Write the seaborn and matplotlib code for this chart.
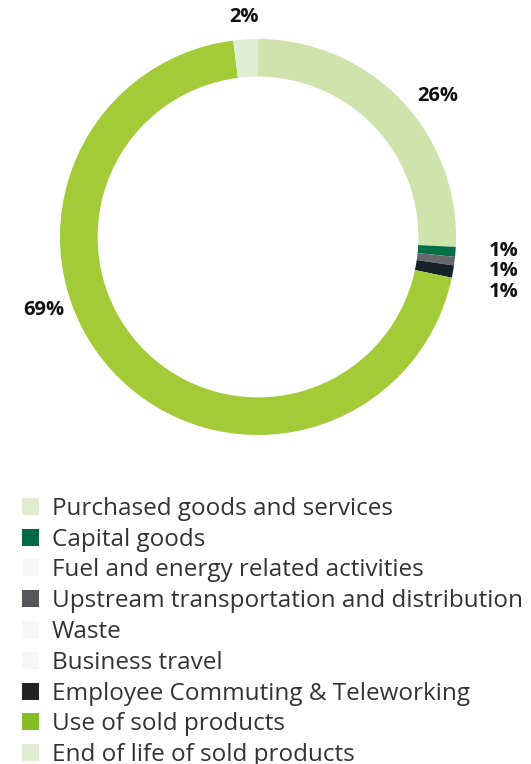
import matplotlib
matplotlib.use("Agg")
import matplotlib.pyplot as plt
import seaborn as sns

# category data
categories = [
    "Purchased goods and services",
    "Capital goods",
    "Fuel and energy related activities",
    "Upstream transportation and distribution",
    "Waste",
    "Business travel",
    "Employee Commuting & Teleworking",
    "Use of sold products",
    "End of life of sold products",
]
shares = [25.8, 0.8, 0.0, 0.7, 0.0, 0.0, 1.0, 69.7, 2.0]
share_labels = ["26%", "1%", "", "1%", "", "", "1%", "69%", "2%"]

ring_colors = ["#cfe3ad", "#007044", "#f4f4f4", "#66686c", "#f4f4f4",
               "#f4f4f4", "#14202a", "#a3cb38", "#e1eed5"]
legend_colors = ["#dfeccf", "#006a45", "#f6f6f6", "#53565a", "#f6f6f6",
                 "#f6f6f6", "#222222", "#86bc25", "#dfeccf"]

# label placement (axes data units, radius = 1)
label_pos = [(0.91, 0.71), (1.24, -0.07), None, (1.24, -0.17), None, None,
             (1.24, -0.28), (-1.08, -0.37), (-0.07, 1.11)]

sns.set_theme(style="white")
plt.rcParams["font.family"] = ["Open Sans", "DejaVu Sans"]

W, H = 531, 764
fig = plt.figure(figsize=(W / 100, H / 100), dpi=100)
cx, cy, r = 258, 237, 198
ax = fig.add_axes([(cx - r) / W, 1 - (cy + r) / H, 2 * r / W, 2 * r / H])

wedges, _ = ax.pie(shares, colors=ring_colors, startangle=90, counterclock=False,
                   radius=1, wedgeprops=dict(width=0.19, linewidth=0))
ax.set_xlim(-1, 1)
ax.set_ylim(-1, 1)
ax.set_aspect("equal")
ax.axis("off")

for lab, pos in zip(share_labels, label_pos):
    if pos is None:
        continue
    ax.text(pos[0], pos[1], lab, ha="center", va="center", fontsize=14.5,
            fontweight="bold", color="#111111", clip_on=False)

handles = [plt.Rectangle((0, 0), 1, 1, facecolor=c, edgecolor="none")
           for c in legend_colors]
fig.legend(handles, categories, loc="upper left", bbox_to_anchor=(12 / W, 1 - 487 / H),
           frameon=False, fontsize=17.5, labelcolor="#333333", handlelength=0.7,
           handleheight=0.7, handletextpad=0.55, labelspacing=0.28, borderaxespad=0)

fig.savefig("out.png", dpi=100)
